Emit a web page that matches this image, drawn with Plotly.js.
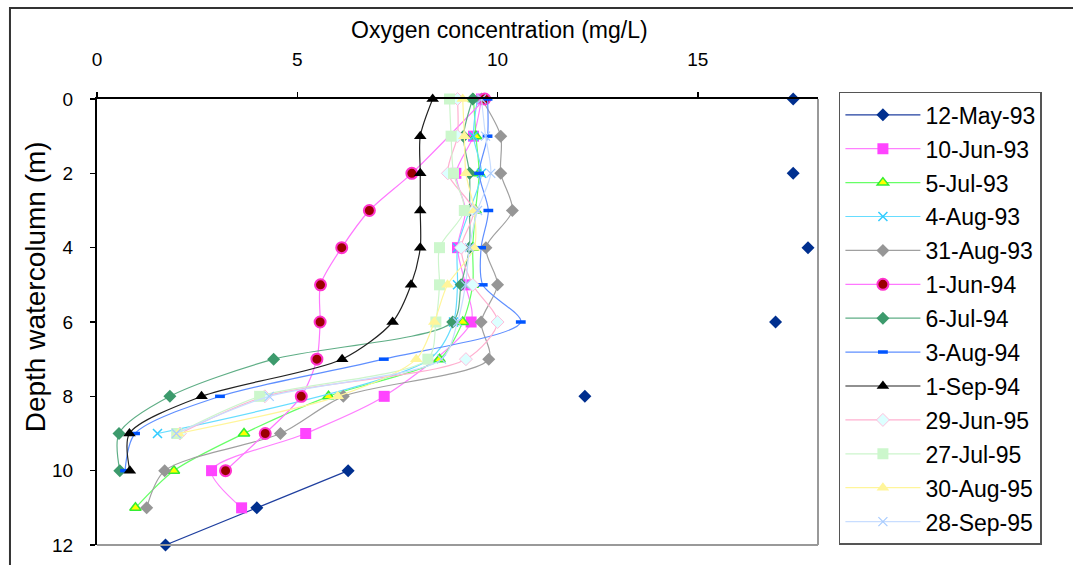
<!DOCTYPE html>
<html>
<head>
<meta charset="utf-8">
<script src="https://cdn.plot.ly/plotly-3.0.1.min.js"></script>
<style>html,body{margin:0;padding:0;background:#fff;}#chart{width:1073px;height:565px;}</style>
</head>
<body>
<div id="chart"></div>
<script>
// Depth of each sample (m)
var depths = [0, 1, 2, 3, 4, 5, 6, 7, 8, 9, 10, 11, 12];

// Oxygen concentration (mg/L) per sampling date, aligned with depths (null = no sample)
var may12_93 = [17.38, null, 17.38, null, 17.75, null, 16.94, null, 12.18, null, 6.27, 3.99, 1.71];
var jun10_93 = [9.6, 9.4, 8.96, 9.2, 9.0, 9.2, 9.34, null, 7.17, 5.21, 2.86, 3.61, null];
var jul05_93 = [9.4, 9.46, 9.54, 9.45, 9.38, 9.38, 9.13, 8.55, 5.78, 3.67, 1.92, 0.96, null];
var aug04_93 = [9.5, 9.4, 9.6, 9.3, 9.0, 9.0, 8.9, 8.3, null, 1.51, null, null, null];
var aug31_93 = [9.6, 10.08, 10.08, 10.37, 9.71, 10.0, 9.59, 9.78, 6.15, 4.58, 1.69, 1.24, null];
var jun01_94 = [9.68, null, 7.86, 6.8, 6.11, 5.58, 5.57, 5.49, 5.1, 4.2, 3.21, null, null];
var jul06_94 = [9.38, 9.15, 9.3, 9.3, 9.3, 9.09, 8.88, 4.41, 1.82, 0.55, 0.57, null, null];
var aug03_94 = [9.75, 9.75, 9.54, 9.77, 9.59, 9.63, 10.58, 7.16, 3.07, 0.95, 0.7, null, null];
var sep01_94 = [8.38, 8.07, 8.07, 8.07, 8.07, 7.84, 7.38, 6.12, 2.61, 0.81, 0.82, null, null];
var jun29_95 = [9.0, 9.0, 8.76, 9.4, 9.09, 9.38, 10.0, 9.21, 4.19, 2.07, null, null, null];
var jul27_95 = [8.8, 8.84, 8.9, 9.17, 8.55, 8.55, 8.46, 8.26, 4.06, 1.99, null, null, null];
var aug30_95 = [9.13, 9.17, 9.21, 9.42, 9.42, 8.75, 8.42, 7.97, 6.01, 2.03, null, null, null];
var sep28_95 = [9.6, 9.7, 9.83, 9.5, 9.3, 9.2, 9.0, 8.6, 4.3, 1.98, null, null, null];

var seriesNames = ['12-May-93', '10-Jun-93', '5-Jul-93', '4-Aug-93', '31-Aug-93', '1-Jun-94', '6-Jul-94',
                   '3-Aug-94', '1-Sep-94', '29-Jun-95', '27-Jul-95', '30-Aug-95', '28-Sep-95'];
var seriesValues = [may12_93, jun10_93, jul05_93, aug04_93, aug31_93, jun01_94, jul06_94,
                    aug03_94, sep01_94, jun29_95, jul27_95, aug30_95, sep28_95];

var xTicks = [0, 5, 10, 15];
var yTicks = [0, 2, 4, 6, 8, 10, 12];

var styles = [
  {lc: '#1f3f9f', mc: '#002f8f', ol: '#002f8f', ow: 0, sym: 'diamond', sz: 10},
  {lc: '#ff7fff', mc: '#ff44ff', ol: '#ff44ff', ow: 0, sym: 'square', sz: 11},
  {lc: '#66ff66', mc: '#ffff00', ol: '#33ee33', ow: 1.5, sym: 'triangle-up', sz: 10},
  {lc: '#66ddff', mc: '#33ccff', ol: '#33ccff', ow: 1.5, sym: 'x-thin', sz: 9},
  {lc: '#a0a0a0', mc: '#969696', ol: '#969696', ow: 0, sym: 'diamond', sz: 10},
  {lc: '#ff77ff', mc: '#9a0000', ol: '#ff33cc', ow: 2, sym: 'circle', sz: 11},
  {lc: '#5fae86', mc: '#3c9a6c', ol: '#3c9a6c', ow: 0, sym: 'diamond', sz: 10},
  {lc: '#5f8fff', mc: '#0055ff', ol: '#0055ff', ow: 3.5, sym: 'line-ew', sz: 7},
  {lc: '#222222', mc: '#000000', ol: '#000000', ow: 0, sym: 'triangle-up', sz: 11},
  {lc: '#ffb0d0', mc: '#ddffff', ol: '#ffc0dd', ow: 1, sym: 'diamond', sz: 10},
  {lc: '#ccf5cc', mc: '#ccf7cc', ol: '#ccf7cc', ow: 0, sym: 'square', sz: 11},
  {lc: '#fff59a', mc: '#fff59a', ol: '#f5ee90', ow: 0, sym: 'triangle-up', sz: 11},
  {lc: '#c8ddff', mc: '#a8ccff', ol: '#a8ccff', ow: 1.2, sym: 'x-thin', sz: 9}
];

var traces = seriesNames.map(function (name, i) {
  var s = styles[i];
  return {
    type: 'scatter',
    mode: 'lines+markers',
    name: name,
    legendgroup: 'g' + i,
    x: seriesValues[i],
    y: depths,
    connectgaps: i !== 0,
    line: {color: s.lc, width: 1.2, shape: 'spline', smoothing: 0.8},
    marker: {symbol: s.sym, size: s.sz, color: s.mc, line: {color: s.ol, width: s.ow}},
    cliponaxis: false
  };
});

var fontFam = '"Liberation Sans", Arial, sans-serif';

var layout = {
  width: 1073, height: 565,
  margin: {l: 97, r: 255, t: 99, b: 20},
  paper_bgcolor: '#ffffff',
  plot_bgcolor: '#ffffff',
  font: {family: fontFam, size: 19, color: '#000000'},
  showlegend: true,
  xaxis: {
    side: 'top', range: [0, 18], tickvals: xTicks, ticktext: xTicks.map(String),
    showgrid: false, zeroline: false, showline: true, linecolor: '#000000', linewidth: 2,
    ticks: 'outside', ticklen: 5, tickcolor: '#000000', tickwidth: 1.5,
    ticklabelstandoff: 18, tickfont: {family: fontFam, size: 19, color: '#000000'}
  },
  yaxis: {
    range: [12, 0], tickvals: yTicks, ticktext: yTicks.map(String),
    showgrid: false, zeroline: false, showline: true, linecolor: '#000000', linewidth: 2,
    ticks: 'outside', ticklen: 5, tickcolor: '#000000', tickwidth: 1.5,
    ticklabelstandoff: 13, tickfont: {family: fontFam, size: 19, color: '#000000'}
  },
  legend: {
    x: 1.029, y: 1.016, xanchor: 'left', yanchor: 'top',
    bgcolor: '#ffffff', bordercolor: '#555555', borderwidth: 1.5,
    font: {family: fontFam, size: 23, color: '#000000'},
    tracegroupgap: 1, itemwidth: 75, maxheight: 520
  },
  shapes: [
    {type: 'line', xref: 'paper', yref: 'paper', x0: 1, x1: 1, y0: 0, y1: 1, line: {color: '#999999', width: 2}},
    {type: 'line', xref: 'paper', yref: 'paper', x0: 0, x1: 1, y0: 0, y1: 0, line: {color: '#999999', width: 2}},
    {type: 'rect', xref: 'paper', yref: 'paper', x0: -0.1207, x1: 1.37, y0: -0.07, y1: 1.204, line: {color: '#333333', width: 2}}
  ],
  annotations: [
    {text: 'Oxygen concentration (mg/L)', xref: 'paper', yref: 'paper', x: 0.558, y: 1.155,
     xanchor: 'center', yanchor: 'middle', showarrow: false, font: {family: fontFam, size: 23, color: '#000000'}},
    {text: 'Depth watercolumn (m)', xref: 'paper', yref: 'paper', x: -0.086, y: 0.58, textangle: -90,
     xanchor: 'center', yanchor: 'middle', showarrow: false, font: {family: fontFam, size: 28, color: '#000000'}}
  ]
};

Plotly.newPlot('chart', traces, layout, {displayModeBar: false, staticPlot: true});
</script>
</body>
</html>
